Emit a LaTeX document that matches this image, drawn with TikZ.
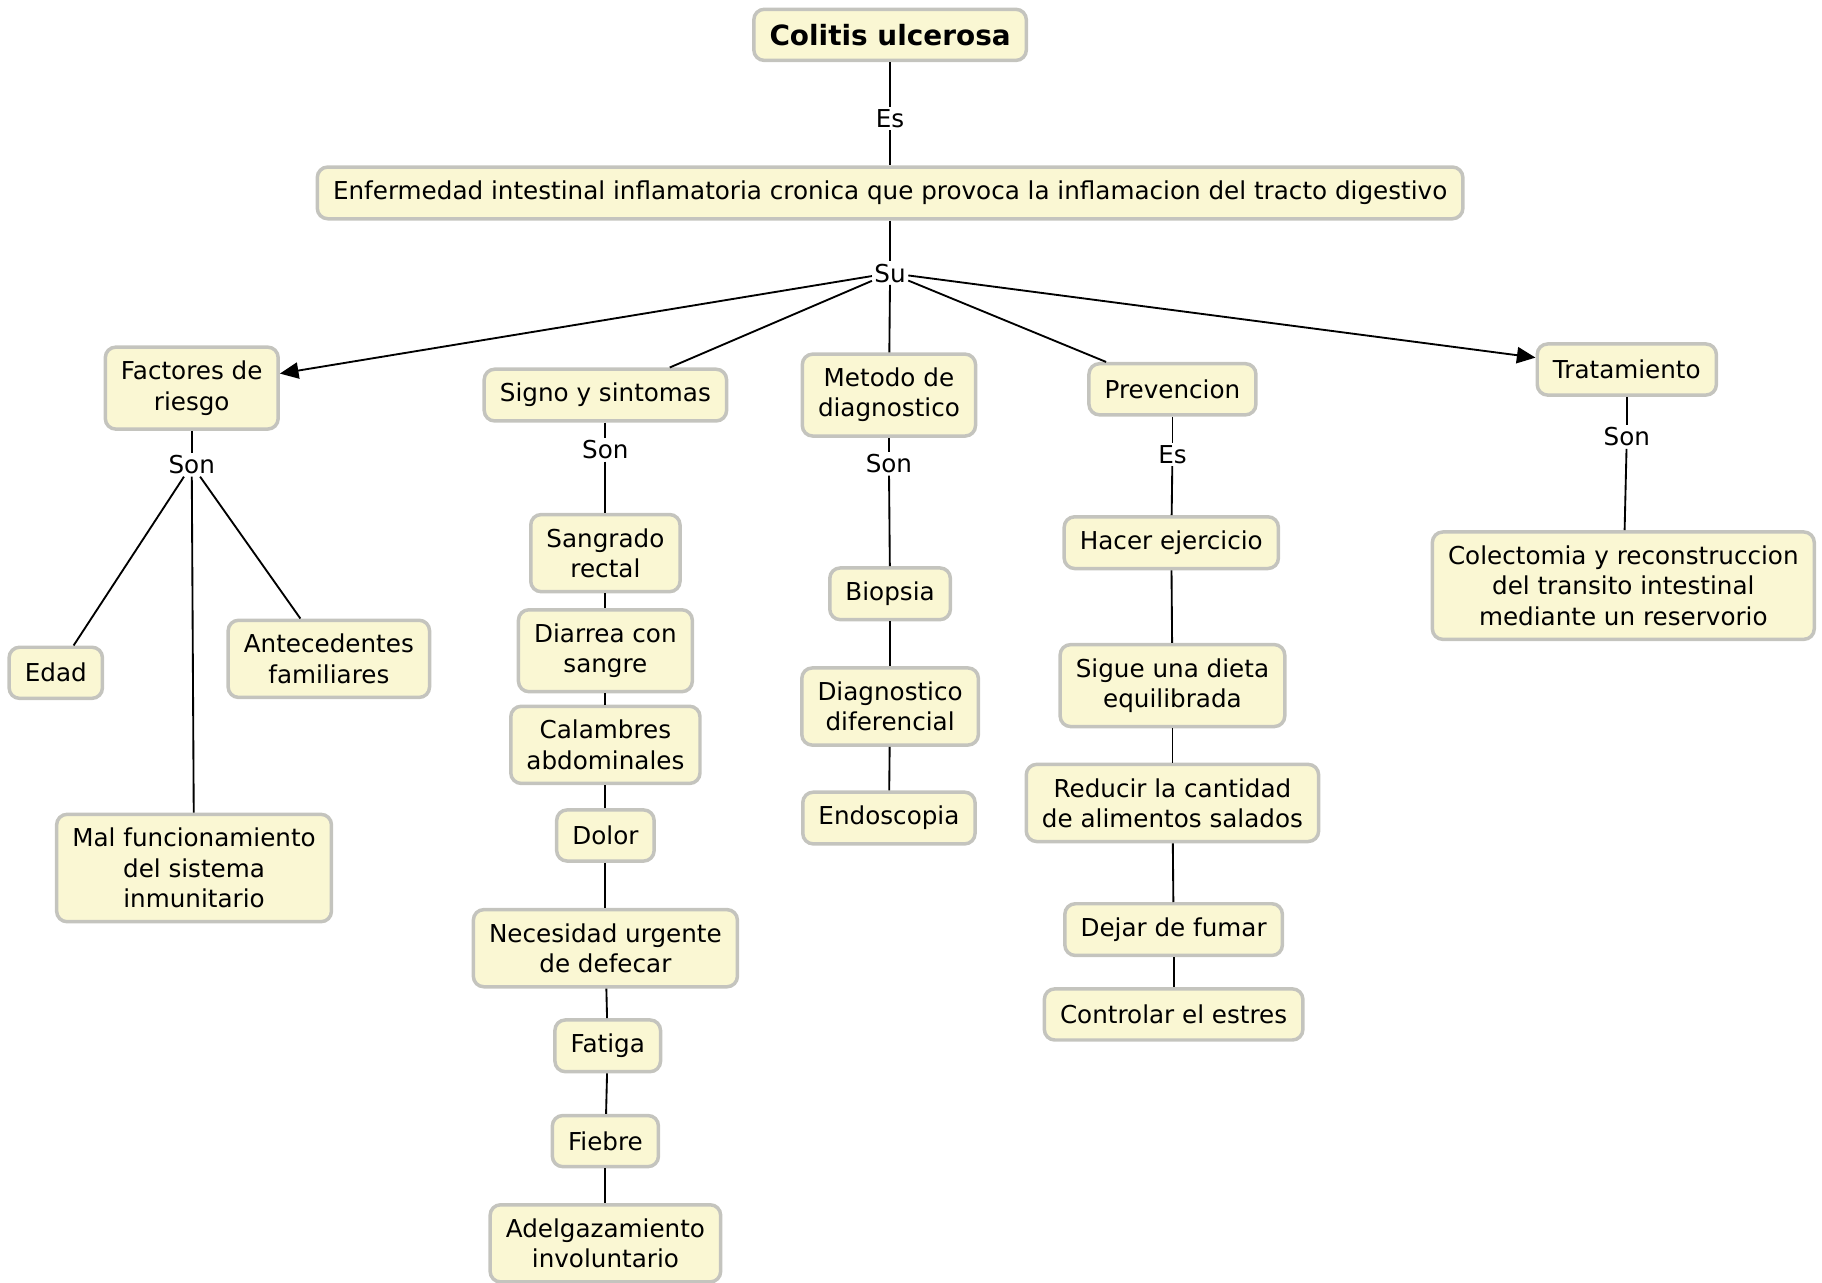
\documentclass[tikz,border=0pt]{standalone}
\usepackage{fontspec}
\setmainfont{DejaVu Sans}
\usetikzlibrary{arrows.meta}

\definecolor{cream}{RGB}{250,247,211}
\definecolor{rim}{RGB}{196,196,190}

\tikzstyle{concept}=[draw=rim,line width=3pt,fill=cream,rounded corners=9pt,align=center,inner xsep=13.5pt,inner ysep=12pt,minimum height=44pt,font=\fontsize{21.2}{26}\selectfont]
\tikzstyle{phrase}=[inner sep=2pt,font=\fontsize{21.2}{26}\selectfont]
\tikzstyle{conn}=[line width=1.6pt]
\tikzstyle{arr}=[line width=1.6pt,-{Triangle[length=16pt,width=14pt]}]

\begin{document}
\begin{tikzpicture}[x=1pt,y=-1pt]
    \useasboundingbox (0,0) rectangle (1568,1104);

    \node (title)[concept,inner ysep=9pt,font=\bfseries\fontsize{24}{29}\selectfont] at (766,30) {Colitis ulcerosa};
    \node (es1)[phrase] at (766,102) {Es};
    \node (def)[concept] at (766,166) {Enfermedad intestinal inflamatoria cronica que provoca la inflamacion del tracto digestivo};
    \node (su)[phrase] at (766,235) {Su};

    \node (fac)[concept] at (165,334) {Factores de\\riesgo};
    \node (sig)[concept] at (521,340) {Signo y sintomas};
    \node (met)[concept] at (765,340) {Metodo de\\diagnostico};
    \node (pre)[concept] at (1009,335) {Prevencion};
    \node (tra)[concept] at (1400,318) {Tratamiento};

    \node (son1)[phrase] at (165,400) {Son};
    \node (edad)[concept] at (48,579) {Edad};
    \node (ante)[concept] at (283,567) {Antecedentes\\familiares};
    \node (mal)[concept] at (167,747) {Mal funcionamiento\\del sistema\\inmunitario};

    \node (son2)[phrase] at (521,387) {Son};
    \node (s1)[concept] at (521,476) {Sangrado\\rectal};
    \node (s2)[concept] at (521,560) {Diarrea con\\sangre};
    \node (s3)[concept] at (521,641) {Calambres\\abdominales};
    \node (s4)[concept] at (521,719) {Dolor};
    \node (s5)[concept] at (521,816) {Necesidad urgente\\de defecar};
    \node (s6)[concept] at (523,900) {Fatiga};
    \node (s7)[concept] at (521,982) {Fiebre};
    \node (s8)[concept] at (521,1070) {Adelgazamiento\\involuntario};

    \node (son3)[phrase] at (765,399) {Son};
    \node (m1)[concept] at (766,511) {Biopsia};
    \node (m2)[concept] at (766,608) {Diagnostico\\diferencial};
    \node (m3)[concept] at (765,704) {Endoscopia};

    \node (es2)[phrase] at (1009,391) {Es};
    \node (p1)[concept] at (1008,467) {Hacer ejercicio};
    \node (p2)[concept] at (1009,590) {Sigue una dieta\\equilibrada};
    \node (p3)[concept] at (1009,691) {Reducir la cantidad\\de alimentos salados};
    \node (p4)[concept] at (1010,800) {Dejar de fumar};
    \node (p5)[concept] at (1010,873) {Controlar el estres};

    \node (son4)[phrase] at (1400,376) {Son};
    \node (col)[concept] at (1397,504) {Colectomia y reconstruccion\\del transito intestinal\\mediante un reservorio};

    \draw[conn] (title) -- (es1);
    \draw[conn] (es1) -- (def);
    \draw[conn] (def) -- (su);

    \draw[arr] (su) -- (fac);
    \draw[conn] (su) -- (sig);
    \draw[conn] (su) -- (met);
    \draw[conn] (su) -- (pre);
    \draw[arr] (su) -- (tra);

    \draw[conn] (fac) -- (son1);
    \draw[conn] (son1) -- (edad);
    \draw[conn] (son1) -- (ante);
    \draw[conn] (son1) -- (mal);

    \draw[conn] (sig) -- (son2);
    \draw[conn] (son2) -- (s1);
    \draw[conn] (s1) -- (s2);
    \draw[conn] (s2) -- (s3);
    \draw[conn] (s3) -- (s4);
    \draw[conn] (s4) -- (s5);
    \draw[conn] (s5) -- (s6);
    \draw[conn] (s6) -- (s7);
    \draw[conn] (s7) -- (s8);

    \draw[conn] (met) -- (son3);
    \draw[conn] (son3) -- (m1);
    \draw[conn] (m1) -- (m2);
    \draw[conn] (m2) -- (m3);

    \draw[conn] (pre) -- (es2);
    \draw[conn] (es2) -- (p1);
    \draw[conn] (p1) -- (p2);
    \draw[conn] (p2) -- (p3);
    \draw[conn] (p3) -- (p4);
    \draw[conn] (p4) -- (p5);

    \draw[conn] (tra) -- (son4);
    \draw[conn] (son4) -- (col);
\end{tikzpicture}
\end{document}
